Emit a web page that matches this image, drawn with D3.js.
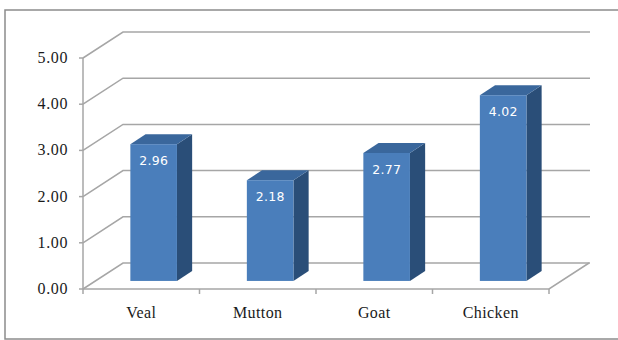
<!DOCTYPE html>
<html>
<head>
<meta charset="utf-8">
<script src="https://cdn.jsdelivr.net/npm/d3@7"></script>
<style>
  body { margin: 0; background: #fff; }
</style>
</head>
<body>
<script>
/* data */
var categories = ['Veal', 'Mutton', 'Goat', 'Chicken'];
var values = [2.96, 2.18, 2.77, 4.02];
var tickValues = [0, 1, 2, 3, 4, 5];

var width = 618, height = 340;

var svg = d3.select('body').append('svg')
  .attr('width', width)
  .attr('height', height);

/* outer frame */
svg.append('rect')
  .attr('x', 5).attr('y', 10)
  .attr('width', 640).attr('height', 329)
  .attr('fill', 'none')
  .attr('stroke', '#8c8c8c')
  .attr('stroke-width', 1.5);

/* scales: front plane */
var x = d3.scaleBand().domain(categories).range([83, 549]).padding(0);
var y = d3.scaleLinear().domain([0, 5]).range([289, 58]);

/* depth vector to back wall */
var dx = 40, dy = -26;
var gridColor = '#a6a6a6';

/* back wall gridlines + side wall diagonals */
tickValues.forEach(function (t) {
  var yy = y(t);
  svg.append('polyline')
    .attr('points', [[83, yy], [83 + dx, yy + dy], [590, yy + dy]].join(' '))
    .attr('fill', 'none')
    .attr('stroke', gridColor)
    .attr('stroke-width', 1.5);
});

/* floor front edge + right diagonal */
svg.append('polyline')
  .attr('points', [[83, y(0)], [549, y(0)], [549 + dx, y(0) + dy]].join(' '))
  .attr('fill', 'none')
  .attr('stroke', gridColor)
  .attr('stroke-width', 1.5);

/* y axis line */
svg.append('line')
  .attr('x1', 83).attr('y1', y(5))
  .attr('x2', 83).attr('y2', y(0))
  .attr('stroke', gridColor)
  .attr('stroke-width', 1.5);

/* y ticks + labels */
tickValues.forEach(function (t) {
  svg.append('line')
    .attr('x1', 79).attr('x2', 83)
    .attr('y1', y(t)).attr('y2', y(t))
    .attr('stroke', gridColor).attr('stroke-width', 1.5);
  svg.append('text')
    .attr('x', 68).attr('y', y(t) + 5)
    .attr('text-anchor', 'end')
    .attr('font-family', '"Liberation Serif", serif')
    .attr('font-size', 16)
    .attr('letter-spacing', 0.6)
    .attr('fill', '#1a1a1a')
    .text(t.toFixed(2));
});

/* x ticks */
x.domain().concat(['end']).forEach(function (c, i) {
  var xx = i < categories.length ? x(c) : x.range()[1];
  svg.append('line')
    .attr('x1', xx).attr('x2', xx)
    .attr('y1', y(0)).attr('y2', y(0) + 5)
    .attr('stroke', gridColor).attr('stroke-width', 1.5);
});

/* category labels */
categories.forEach(function (c) {
  svg.append('text')
    .attr('x', x(c) + x.bandwidth() / 2)
    .attr('y', 318)
    .attr('text-anchor', 'middle')
    .attr('font-family', '"Liberation Serif", serif')
    .attr('font-size', 16)
    .attr('letter-spacing', 0.4)
    .attr('fill', '#1a1a1a')
    .text(c);
});

/* 3d bars */
var z0 = 0.31, z1 = 0.69;
var barW = x.bandwidth() * 0.4;
var frontC = '#4a7ebb', topC = '#3a679c', sideC = '#2a4e78';

categories.forEach(function (c, i) {
  var v = values[i];
  var x0 = x(c) + (x.bandwidth() - barW) / 2 + dx * z0;
  var x1 = x0 + barW;
  var yb = y(0) + dy * z0;
  var yt = y(v) + dy * z0;
  var ox = dx * (z1 - z0), oy = dy * (z1 - z0);

  // side face
  svg.append('polygon')
    .attr('points', [[x1, yt], [x1 + ox, yt + oy], [x1 + ox, yb + oy], [x1, yb]].join(' '))
    .attr('fill', sideC);
  // top face
  svg.append('polygon')
    .attr('points', [[x0, yt], [x0 + ox, yt + oy], [x1 + ox, yt + oy], [x1, yt]].join(' '))
    .attr('fill', topC);
  // front face
  svg.append('rect')
    .attr('x', x0).attr('y', yt)
    .attr('width', barW).attr('height', yb - yt)
    .attr('fill', frontC);
  // value label
  svg.append('text')
    .attr('x', x0 + barW / 2)
    .attr('y', yt + 21)
    .attr('text-anchor', 'middle')
    .attr('font-family', '"DejaVu Sans", sans-serif')
    .attr('font-size', 12.5)
    .attr('letter-spacing', 0.3)
    .attr('fill', '#fff')
    .text(v.toFixed(2));
});
</script>
</body>
</html>
